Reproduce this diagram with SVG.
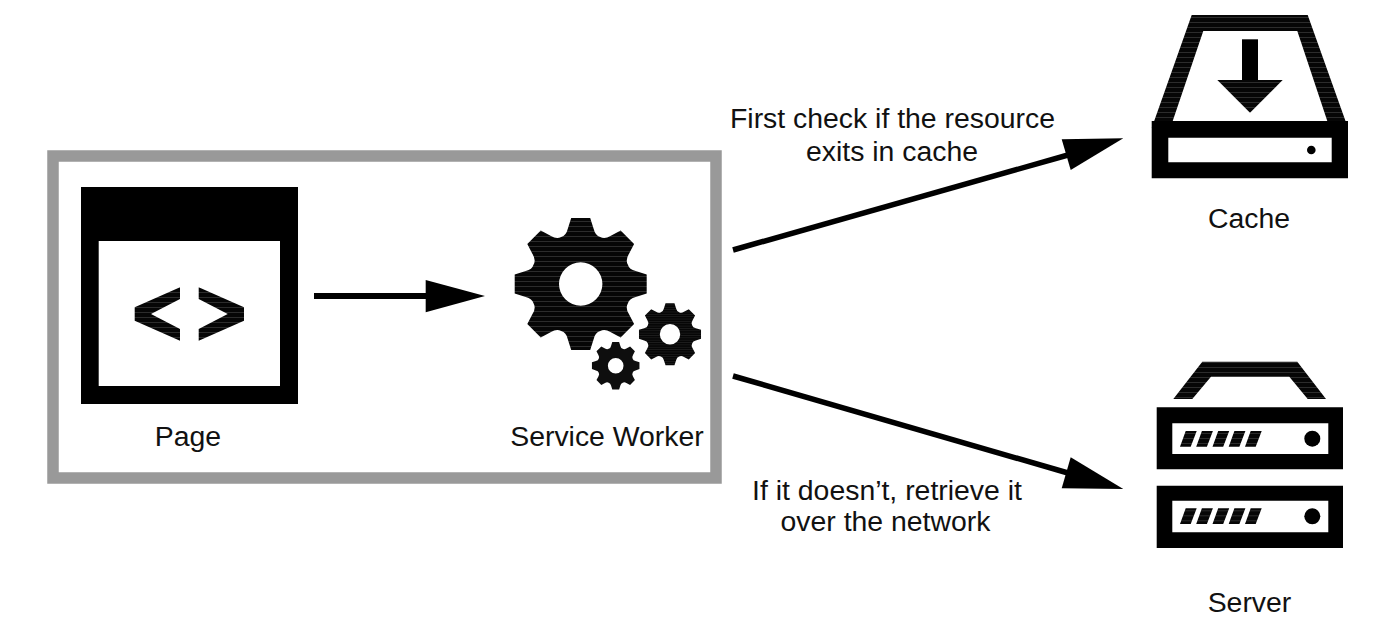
<svg xmlns="http://www.w3.org/2000/svg" xmlns:xlink="http://www.w3.org/1999/xlink" width="1396" height="628" viewBox="0 0 1396 628">
<style>
text{font-family:"Liberation Sans",Arial,sans-serif;font-size:28.4px;fill:#111;text-anchor:middle}
.k{fill:#000}
.s{fill:url(#stripe)}
.line{fill:none;stroke:#000;stroke-width:6}
.diag{fill:none;stroke:#000;stroke-width:5.5}
</style>
<defs>
<pattern id="stripe" patternUnits="userSpaceOnUse" width="6" height="5"><rect width="6" height="5" fill="#060606"/><rect y="2" width="6" height="1" fill="#2c2c2c"/></pattern>
<path id="gear" fill-rule="evenodd" d="M-19.5-47.1Q-14.5-48.5-13-55L-9.5-66H9.5L13-55Q14.5-48.5 19.5-47.1Q24.04-44.55 29.7-48.08L39.95-53.39L53.39-39.95L48.08-29.7Q44.55-24.04 47.09-19.52Q48.5-14.5 55-13L66-9.5V9.5L55 13Q48.5 14.5 47.1 19.5Q44.55 24.04 48.08 29.7L53.39 39.95L39.95 53.39L29.7 48.08Q24.04 44.55 19.52 47.09Q14.5 48.5 13 55L9.5 66H-9.5L-13 55Q-14.5 48.5-19.5 47.1Q-24.04 44.55-29.7 48.08L-39.95 53.39L-53.39 39.95L-48.08 29.7Q-44.55 24.04-47.09 19.52Q-48.5 14.5-55 13L-66 9.5V-9.5L-55-13Q-48.5-14.5-47.1-19.5Q-44.55-24.04-48.08-29.7L-53.39-39.95L-39.95-53.39L-29.7-48.08Q-24.04-44.55-19.5-47.1ZM21.7 0A21.7 21.7 0 1 0-21.7 0A21.7 21.7 0 1 0 21.7 0Z"/>
<path id="slashes" d="M1180 15.7H1190.7L1196.7 0H1185.7ZM1196.2 15.7H1206.9L1212.9 0H1201.9ZM1212.5 15.7H1223.2L1229.2 0H1218.2ZM1228.7 15.7H1239.4L1245.4 0H1234.4ZM1245 15.7H1255.7L1261.7 0H1250.7Z"/>
</defs>
<rect width="1396" height="628" fill="#fff"/>
<rect id="boundary" x="53" y="156" width="663" height="322" fill="none" stroke="#999" stroke-width="11.5"/>
<g id="page">
<path class="k" fill-rule="evenodd" d="M81 187H298V404H81ZM98.7 241V386H280V241Z"/>
<path class="s" d="M180 287.3L134.7 307.3V320.7L180 340.7V329L151 314L180 299ZM198.7 287.3L244 307.3V320.7L198.7 340.7V329L227.7 314L198.7 299Z"/>
<text x="188" y="446">Page</text>
</g>
<g id="service-worker">
<use xlink:href="#gear" class="s" transform="translate(580.7 284)"/>
<use xlink:href="#gear" class="s" transform="translate(670 334.3) scale(.47)"/>
<use xlink:href="#gear" class="s" transform="translate(615.7 365.7) scale(.36)"/>
<text x="607" y="446">Service Worker</text>
</g>
<g id="cache">
<path class="s" fill-rule="evenodd" d="M1191.7 15H1307.7L1348 128H1151.7ZM1203.3 31L1172.7 121H1327.3L1297.3 31Z"/>
<path class="k" fill-rule="evenodd" d="M1151.7 121H1348V178.3H1151.7ZM1168.3 137.7V162.3H1331.7V137.7Z"/>
<circle class="k" cx="1311.3" cy="150" r="4.3"/>
<rect class="k" x="1242" y="39.3" width="16" height="42"/>
<path class="s" d="M1217.3 80H1282.7L1250 112.7Z"/>
<text x="1249" y="228">Cache</text>
</g>
<g id="server">
<path class="s" d="M1202.3 361.7H1297.3L1326 399H1307.7L1289.3 376.7H1211L1192.3 399H1173.3Z"/>
<path class="k" fill-rule="evenodd" d="M1156.7 407.3H1343V469.3H1156.7ZM1172.3 423.3V454H1328.3V423.3Z"/>
<path class="k" fill-rule="evenodd" d="M1156.7 485.7H1343V548H1156.7ZM1172.3 500.7V532.3H1328.3V500.7Z"/>
<use xlink:href="#slashes" class="s" y="431"/>
<use xlink:href="#slashes" class="s" y="508.3"/>
<circle class="k" cx="1312.3" cy="438.7" r="8"/>
<circle class="k" cx="1312.3" cy="516.3" r="8"/>
<text x="1249.5" y="612">Server</text>
</g>
<g id="connectors">
<path class="line" d="M314 296H428"/>
<path class="k" d="M425.7 280L485 296L425.7 312.3Z"/>
<path class="diag" d="M733 250L1068 155"/>
<path class="k" d="M1061.7 139.3L1123.3 138.3L1070.7 170Z"/>
<path class="diag" d="M733 376L1068 473"/>
<path class="k" d="M1070.7 457.3L1123.3 489L1061.7 488.3Z"/>
</g>
<g id="labels">
<text x="892.5" y="128.3">First check if the resource</text>
<text x="892" y="160.7">exits in cache</text>
<text x="887" y="500">If it doesn’t, retrieve it</text>
<text x="885.5" y="531">over the network</text>
</g>
</svg>
